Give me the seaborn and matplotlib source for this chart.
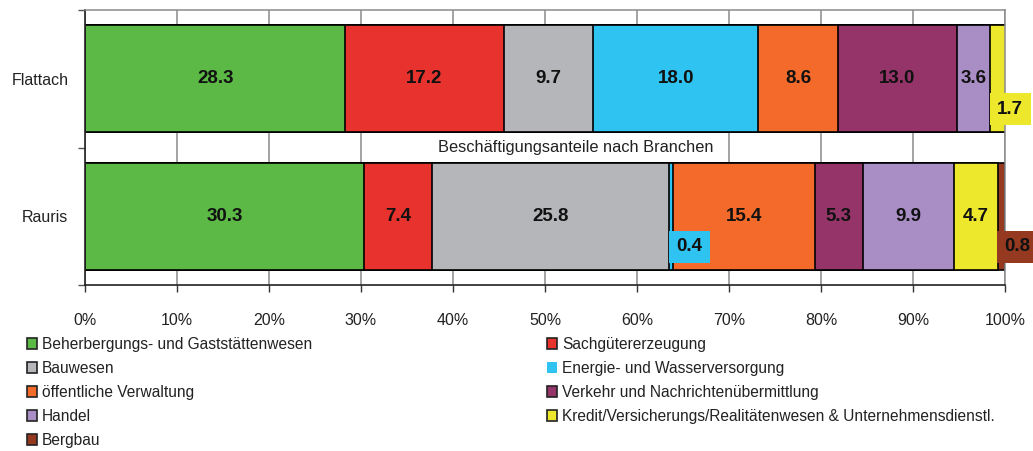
import numpy as np
import pandas as pd
import matplotlib
matplotlib.use("Agg")
import matplotlib.pyplot as plt
from matplotlib.patches import Patch
import seaborn as sns

# Employment shares by sector (percent) for two municipalities
orte = ["Flattach", "Rauris"]
branchen = [
    "Beherbergungs- und Gaststättenwesen",
    "Sachgütererzeugung",
    "Bauwesen",
    "Energie- und Wasserversorgung",
    "öffentliche Verwaltung",
    "Verkehr und Nachrichtenübermittlung",
    "Handel",
    "Kredit/Versicherungs/Realitätenwesen & Unternehmensdienstl.",
    "Bergbau",
]
flattach = [28.3, 17.2, 9.7, 18.0, 8.6, 13.0, 3.6, 1.7, 0.0]
rauris = [30.3, 7.4, 25.8, 0.4, 15.4, 5.3, 9.9, 4.7, 0.8]
farben = ["#5cb946", "#e8322d", "#b4b6b9", "#2ec3f0", "#f36a2a",
          "#943468", "#a98ec6", "#ede82b", "#953a20"]
x_ticks = [0, 10, 20, 30, 40, 50, 60, 70, 80, 90, 100]
x_labels = [f"{t}%" for t in x_ticks]
titel = "Beschäftigungsanteile nach Branchen"

sns.set_theme(style="white")
plt.rcParams["font.family"] = ["Liberation Sans", "DejaVu Sans"]

werte = pd.DataFrame([flattach, rauris], index=orte, columns=branchen)
kumuliert = werte.cumsum(axis=1)

fig = plt.figure(figsize=(10.33, 4.51), dpi=100)
ax = fig.add_axes([85 / 1033, 1 - 285 / 451, 920 / 1033, 275 / 451])

# Stacked bars: draw running totals from the outermost segment inwards
for i in reversed(range(len(branchen))):
    df = pd.DataFrame({"Ort": orte, "Wert": kumuliert.iloc[:, i].values})
    sns.barplot(data=df, x="Wert", y="Ort", order=orte, orient="h",
                color=farben[i], saturation=1, errorbar=None,
                edgecolor="black", linewidth=1.2, width=0.78, ax=ax)

ax.set_xlim(0, 100)
ax.set_ylim(1.5, -0.5)
ax.set_xlabel("")
ax.set_ylabel("")
ax.set_axisbelow(True)
ax.set_xticks(x_ticks)
ax.set_xticklabels(x_labels, fontsize=11.5, color="#222222")
ax.grid(axis="x", color="#8a8a8a", linewidth=1.1)
ax.grid(axis="y", visible=False)
ax.tick_params(axis="x", bottom=True, length=5, width=1, color="#333333", pad=15)
ax.set_yticks([0, 1])
ax.set_yticklabels(orte, fontsize=11.5, color="#222222")
ax.set_yticks([-0.5, 0.5, 1.5], minor=True)
ax.tick_params(axis="y", which="major", left=False, length=0, pad=12)
ax.tick_params(axis="y", which="minor", left=True, length=5, width=1, color="#555555")
for side in ("left", "bottom"):
    ax.spines[side].set_color("#222222")
    ax.spines[side].set_linewidth(1.2)
for side in ("top", "right"):
    ax.spines[side].set_color("#8a8a8a")
    ax.spines[side].set_linewidth(1.1)

# Value labels
for r, ort in enumerate(orte):
    for i, b in enumerate(branchen):
        v = werte.loc[ort, b]
        if v <= 0:
            continue
        ende = kumuliert.loc[ort, b]
        start = ende - v
        if v >= 2:
            ax.text(ende - v / 2, r, f"{v:.1f}", ha="center", va="center",
                    fontsize=13.5, fontweight="bold", color="#111111")
        else:
            ax.annotate(f"{v:.1f}", xy=(start, r + 0.22), xytext=(5, 0),
                        textcoords="offset points", ha="left", va="center",
                        fontsize=13.5, fontweight="bold", color="#111111",
                        annotation_clip=False, clip_on=False,
                        bbox=dict(boxstyle="square,pad=0.4",
                                  facecolor=farben[i], edgecolor="none"))

ax.text(0.533, 0.5, titel, transform=ax.transAxes, ha="center", va="center",
        fontsize=11.8, color="#222222",
        bbox=dict(boxstyle="square,pad=0.45", facecolor="white", edgecolor="none"))

# Legend in two columns below the chart
handles = []
for i, b in enumerate(branchen):
    kante = "none" if i == 3 else "#222222"
    handles.append(Patch(facecolor=farben[i], edgecolor=kante, linewidth=1.2, label=b))
links = [handles[i] for i in (0, 2, 4, 6, 8)]
rechts = [handles[i] for i in (1, 3, 5, 7)]
common = dict(frameon=False, fontsize=11.2, handlelength=0.65, handleheight=0.65,
              handletextpad=0.3, labelspacing=0.58, borderpad=0, borderaxespad=0,
              loc="upper left", labelcolor="#222222")
fig.legend(handles=links, bbox_to_anchor=(27 / 1033, 1 - 337 / 451), **common)
fig.legend(handles=rechts, bbox_to_anchor=(547 / 1033, 1 - 337 / 451), **common)

fig.savefig("out.png", dpi=100, facecolor="white")
